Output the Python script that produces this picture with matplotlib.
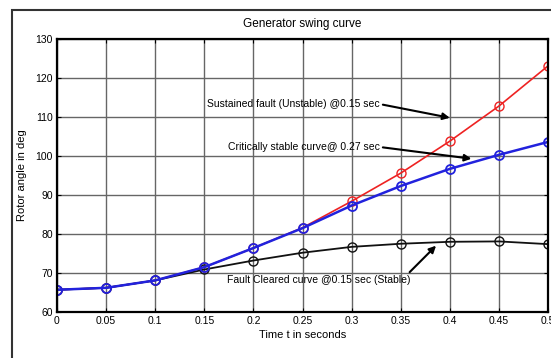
import numpy as np
import matplotlib.pyplot as plt
from matplotlib.patches import Rectangle

plt.rcParams['font.family'] = ['Liberation Sans Narrow', 'Liberation Sans', 'DejaVu Sans']

t = [0, 0.05, 0.1, 0.15, 0.2, 0.25, 0.3, 0.35, 0.4, 0.45, 0.5]
sustained = [65.7, 66.2, 68.1, 71.5, 76.4, 81.6, 88.4, 95.6, 103.8, 112.8, 123.1]
critical = [65.7, 66.2, 68.1, 71.5, 76.4, 81.5, 87.3, 92.3, 96.7, 100.3, 103.6]
cleared = [65.7, 66.2, 68.1, 70.9, 73.2, 75.2, 76.7, 77.5, 78.0, 78.1, 77.4]

xticks = [0, 0.05, 0.1, 0.15, 0.2, 0.25, 0.3, 0.35, 0.4, 0.45, 0.5]
xtick_labels = ['0', '0.05', '0.1', '0.15', '0.2', '0.25', '0.3', '0.35', '0.4', '0.45', '0.5']
yticks = [60, 70, 80, 90, 100, 110, 120, 130]

fig = plt.figure(figsize=(5.51, 3.58), dpi=100)
ax = fig.add_axes([57/551, 46/358, 491/551, 273/358])

# outer frame of the figure window
fig.patches.append(Rectangle((12/551, -0.1), 1.2, 1.1 - 10/358, transform=fig.transFigure,
                             fill=False, edgecolor='#333333', linewidth=1.5))

ax.plot(t, sustained, '-o', color='#ee2222', mfc='none', ms=6.5, lw=1.2, mew=1.0)
ax.plot(t, cleared, '-o', color='#111111', mfc='none', ms=6.5, lw=1.3, mew=1.0)
ax.plot(t, critical, '-o', color='#2222dd', mfc='none', ms=6.5, lw=1.8, mew=1.3)

ax.set_xlim(0, 0.5)
ax.set_ylim(60, 130)
ax.set_xticks(xticks)
ax.set_xticklabels(xtick_labels)
ax.set_yticks(yticks)
ax.grid(True, color='#666666', lw=1.0)
ax.tick_params(direction='in', top=True, right=True, labelsize=7.5, length=3, pad=3)
for s in ax.spines.values():
    s.set_linewidth(1.6)

ax.set_title('Generator swing curve', fontsize=8.5, pad=9)
ax.set_xlabel('Time t in seconds', fontsize=8, labelpad=3)
ax.set_ylabel('Rotor angle in deg', fontsize=8, labelpad=6)

arrow = dict(arrowstyle='-|>', color='black', lw=1.5, mutation_scale=10,
             relpos=(1, 0.5), shrinkA=0, shrinkB=0)
ax.annotate('Sustained fault (Unstable) @0.15 sec', xy=(0.400, 109.8), xytext=(0.329, 113.3),
            ha='right', va='center', fontsize=7.5, arrowprops=arrow)
ax.annotate('Critically stable curve@ 0.27 sec', xy=(0.422, 99.3), xytext=(0.329, 102.3),
            ha='right', va='center', fontsize=7.5, arrowprops=arrow)
ax.annotate('Fault Cleared curve @0.15 sec (Stable)', xy=(0.386, 77.0), xytext=(0.36, 69.5),
            ha='right', va='top', fontsize=7.5,
            arrowprops=dict(arrow, relpos=(0.98, 1.0)))

plt.savefig('out.png', dpi=100)
